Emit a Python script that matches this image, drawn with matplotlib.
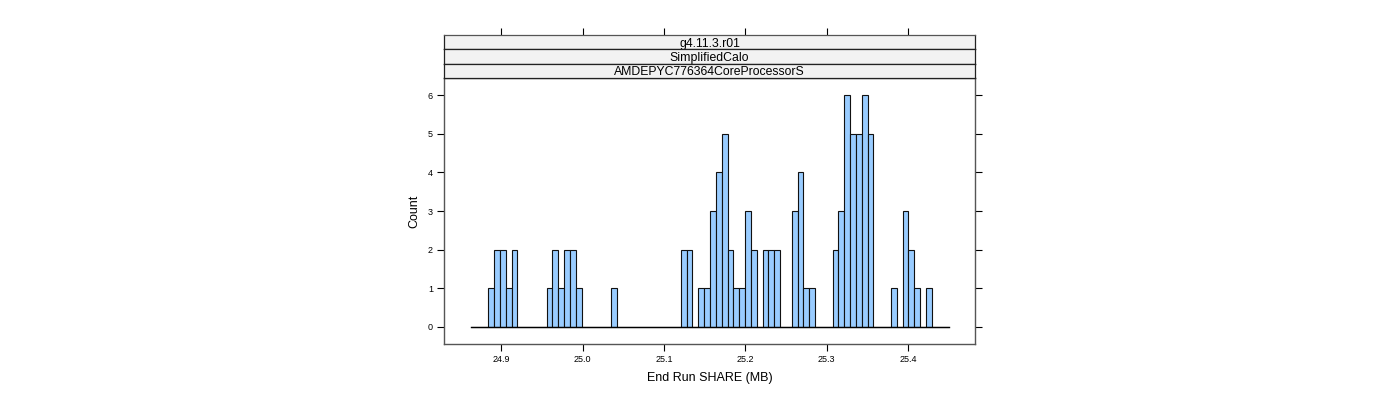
"""
Lattice-style histogram of End Run SHARE for one strip combination.
"""
import numpy as np
import matplotlib
matplotlib.use("Agg")
import matplotlib.pyplot as plt

plt.rcParams["font.family"] = ["Liberation Sans", "DejaVu Sans"]

# histogram breaks and counts
bin_start = 24.8622
bin_width = 0.00718
counts = [
    0, 0, 0, 1, 2, 2, 1, 2, 0, 0,
    0, 0, 0, 1, 2, 1, 2, 2, 1, 0,
    0, 0, 0, 0, 1, 0, 0, 0, 0, 0,
    0, 0, 0, 0, 0, 0, 2, 2, 0, 1,
    1, 3, 4, 5, 2, 1, 1, 3, 2, 0,
    2, 2, 2, 0, 0, 3, 4, 1, 1, 0,
    0, 0, 2, 3, 6, 5, 5, 6, 5, 0,
    0, 0, 1, 0, 3, 2, 1, 0, 1, 0,
    0, 0,
]
strip_labels = ["g4.11.3.r01", "SimplifiedCalo", "AMDEPYC776364CoreProcessorS"]
x_ticks = [24.9, 25.0, 25.1, 25.2, 25.3, 25.4]
y_ticks = [0, 1, 2, 3, 4, 5, 6]

edges = bin_start + bin_width * np.arange(len(counts) + 1)
xlim = (24.8294, 25.4825)

W, H = 1400, 400
fig = plt.figure(figsize=(W / 100, H / 100), dpi=100)

left, right = 444, 975
top, bottom = 78, 344
ax = fig.add_axes([left / W, 1 - bottom / H, (right - left) / W, (bottom - top) / H])

ax.bar(edges[:-1], counts, width=bin_width, align="edge",
       color="#99CCFF", edgecolor="#111111", linewidth=0.8, zorder=2)
ax.plot([edges[0], edges[-1]], [0, 0], color="black", linewidth=1.0, zorder=3)

ax.set_xlim(*xlim)
ax.set_ylim(-0.44, 6.44)
ax.set_xticks(x_ticks)
ax.set_xticklabels([f"{t:.1f}" for t in x_ticks])
ax.set_yticks(y_ticks)
ax.tick_params(axis="both", direction="out", length=5, width=0.8,
               labelsize=6.5, color="black", pad=3)
ax.tick_params(axis="y", right=True, labelright=False)
for sp in ax.spines.values():
    sp.set_color("#555555")
    sp.set_linewidth(1.0)

ax.set_xlabel("End Run SHARE (MB)", fontsize=9, labelpad=6)
ax.set_ylabel("Count", fontsize=9, labelpad=5)

# strips on top of the panel
strip_top = 35
strip_h = (top - strip_top) / len(strip_labels)
for i, lab in enumerate(strip_labels):
    y0 = strip_top + i * strip_h
    sax = fig.add_axes([left / W, 1 - (y0 + strip_h) / H, (right - left) / W, strip_h / H])
    sax.set_facecolor("#F2F2F2")
    sax.set_xlim(*xlim)
    sax.set_ylim(0, 1)
    sax.text(0.5, 0.4, lab, ha="center", va="center", fontsize=8.8,
             transform=sax.transAxes)
    for sp in sax.spines.values():
        sp.set_color("#222222")
        sp.set_linewidth(0.9)
    sax.set_yticks([])
    if i == 0:
        sax.set_xticks(x_ticks)
        sax.tick_params(axis="x", top=True, bottom=False, labeltop=False,
                        labelbottom=False, direction="out", length=5, width=0.8)
        sax.spines["top"].set_color("#555555")
    else:
        sax.set_xticks([])

fig.savefig("out.png", dpi=100)
